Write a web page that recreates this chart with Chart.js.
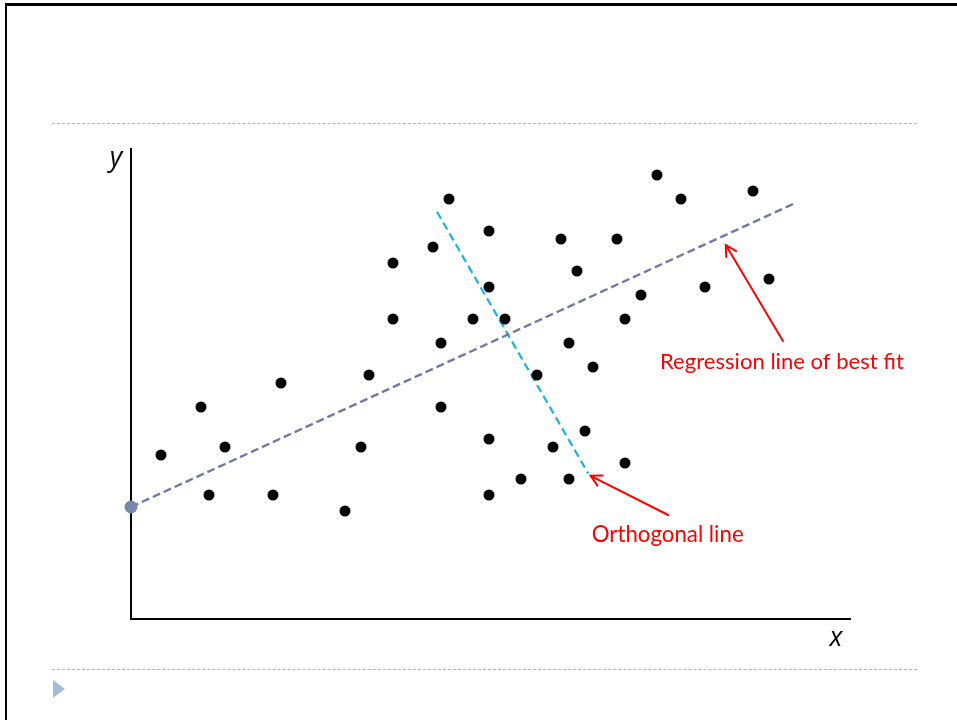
<!DOCTYPE html>
<html>
<head>
<meta charset="utf-8">
<script src="https://cdn.jsdelivr.net/npm/chart.js@4/dist/chart.umd.min.js"></script>
<style>
  html, body { margin: 0; padding: 0; background: #fff; }
  #wrap { position: relative; width: 957px; height: 720px; overflow: hidden; background: #fff; }
  #chart { position: absolute; left: 0; top: 0; }
  .frameTop { position: absolute; left: 5px; top: 3px; width: 952px; height: 3px; background: #000; }
  .frameLeft { position: absolute; left: 5px; top: 3px; width: 2px; height: 717px; background: #000; }
  .rule { position: absolute; left: 52px; width: 865px; height: 0; border-top: 1px dashed #9cb6d0; }
  .tri { position: absolute; left: 53px; top: 680px; width: 0; height: 0;
         border-top: 9px solid transparent; border-bottom: 9px solid transparent; border-left: 12px solid #a3bcd6; }
</style>
</head>
<body>
<div id="wrap">
  <div class="frameTop"></div>
  <div class="frameLeft"></div>
  <div class="rule" style="top:123px"></div>
  <div class="rule" style="top:669px"></div>
  <div class="tri"></div>
  <canvas id="chart" width="957" height="720"></canvas>
</div>
<script>
// ---- data (arbitrary units) ----
const pointsX = [4, 9, 12, 10, 18, 19, 27, 29, 30, 33, 33, 38, 40, 39, 39, 43, 45, 45, 47, 45, 45, 49, 51, 53, 54, 55, 56, 57, 55, 58, 61, 62, 62, 64, 66, 69, 72, 78, 80];
const pointsY = [21, 27, 22, 16, 16, 30, 14, 22, 31, 45, 38, 47, 53, 35, 27, 38, 49, 42, 38, 23, 16, 18, 31, 22, 48, 35, 44, 24, 18, 32, 48, 38, 20, 41, 56, 53, 42, 54, 43];

const regressionX = [0.25, 83.3];
const regressionY = [14.5, 52.5];

const orthogonalX = [38.5, 57.4];
const orthogonalY = [51.4, 18.7];

const axisRangeX = [0.25, 90.25];
const axisRangeY = [0.5, 59.375];

const annotationTexts = ["Regression line of best fit", "Orthogonal line"];
const annotationTextX = [66.375, 57.84];
const annotationTextY = [31.75, 10.16];
const annotationTextWidth = [244, 152];

// arrows: tail -> tip
const arrowTailX = [81.75, 67.4];
const arrowTailY = [35.25, 13.5];
const arrowTipX = [74.6, 57.7];
const arrowTipY = [47.25, 18.4];

const axisLabels = ["y", "x"];

// ---- build ----
const scatterData = pointsX.map((x, i) => ({ x: x, y: pointsY[i] }));
const regData = regressionX.map((x, i) => ({ x: x, y: regressionY[i] }));
const orthData = orthogonalX.map((x, i) => ({ x: x, y: orthogonalY[i] }));

const decorPlugin = {
  id: 'decor',
  beforeDatasetsDraw(chart) {
    const ctx = chart.ctx;
    const xs = chart.scales.x, ys = chart.scales.y;
    const x0 = xs.getPixelForValue(axisRangeX[0]);
    const x1 = xs.getPixelForValue(axisRangeX[1]);
    const y0 = ys.getPixelForValue(axisRangeY[0]);
    const y1 = ys.getPixelForValue(axisRangeY[1]);
    ctx.save();
    ctx.strokeStyle = '#000';
    ctx.lineWidth = 2;
    ctx.beginPath();
    ctx.moveTo(x0, y1);
    ctx.lineTo(x0, y0);
    ctx.lineTo(x1, y0);
    ctx.stroke();
    // axis labels
    ctx.fillStyle = '#000';
    ctx.font = 'italic 500 27px "Open Sans", "DejaVu Sans", sans-serif';
    ctx.textAlign = 'center';
    ctx.textBaseline = 'alphabetic';
    ctx.fillText(axisLabels[0], x0 - 15, y1 + 18);
    ctx.fillText(axisLabels[1], x1 - 15, y0 + 27);
    ctx.restore();
  },
  afterDatasetsDraw(chart) {
    const ctx = chart.ctx;
    const xs = chart.scales.x, ys = chart.scales.y;
    ctx.save();
    ctx.strokeStyle = '#ff0000';
    ctx.fillStyle = '#ff0000';
    ctx.lineWidth = 2;
    ctx.lineCap = 'round';
    for (let i = 0; i < arrowTailX.length; i++) {
      const tx = xs.getPixelForValue(arrowTailX[i]);
      const ty = ys.getPixelForValue(arrowTailY[i]);
      const hx = xs.getPixelForValue(arrowTipX[i]);
      const hy = ys.getPixelForValue(arrowTipY[i]);
      const ang = Math.atan2(hy - ty, hx - tx);
      const L = 12, spread = 0.5;
      ctx.beginPath();
      ctx.moveTo(tx, ty);
      ctx.lineTo(hx, hy);
      ctx.moveTo(hx - L * Math.cos(ang - spread), hy - L * Math.sin(ang - spread));
      ctx.lineTo(hx, hy);
      ctx.lineTo(hx - L * Math.cos(ang + spread), hy - L * Math.sin(ang + spread));
      ctx.stroke();
    }
    ctx.textAlign = 'left';
    ctx.textBaseline = 'alphabetic';
    for (let i = 0; i < annotationTexts.length; i++) {
      let size = 20;
      ctx.font = size + 'px Lato, "Open Sans", sans-serif';
      const w = ctx.measureText(annotationTexts[i]).width;
      size = size * annotationTextWidth[i] / w;
      ctx.font = size.toFixed(2) + 'px Lato, "Open Sans", sans-serif';
      ctx.fillText(annotationTexts[i], xs.getPixelForValue(annotationTextX[i]), ys.getPixelForValue(annotationTextY[i]));
    }
    ctx.restore();
  }
};

new Chart(document.getElementById('chart'), {
  type: 'scatter',
  data: {
    datasets: [
      {
        label: 'Regression line',
        data: regData,
        showLine: true,
        clip: false,
        borderColor: '#717aa3',
        borderWidth: 2.4,
        borderDash: [8, 4],
        pointRadius: [6.5, 0],
        pointBackgroundColor: '#7886ab',
        pointBorderWidth: 0,
        order: 2
      },
      {
        label: 'Orthogonal line',
        data: orthData,
        showLine: true,
        clip: false,
        borderColor: '#1ab0e8',
        borderWidth: 2.2,
        borderDash: [8, 4.5],
        pointRadius: 0,
        order: 3
      },
      {
        label: 'Observations',
        data: scatterData,
        clip: false,
        pointRadius: 5.5,
        pointBackgroundColor: '#000',
        pointBorderWidth: 0,
        order: 1
      }
    ]
  },
  options: {
    responsive: false,
    animation: false,
    layout: { padding: { left: 131, right: 106, top: 148, bottom: 101 } },
    plugins: { legend: { display: false }, tooltip: { enabled: false } },
    scales: {
      x: { type: 'linear', min: axisRangeX[0], max: axisRangeX[1], display: false },
      y: { type: 'linear', min: axisRangeY[0], max: axisRangeY[1], display: false }
    }
  },
  plugins: [decorPlugin]
});
</script>
</body>
</html>
